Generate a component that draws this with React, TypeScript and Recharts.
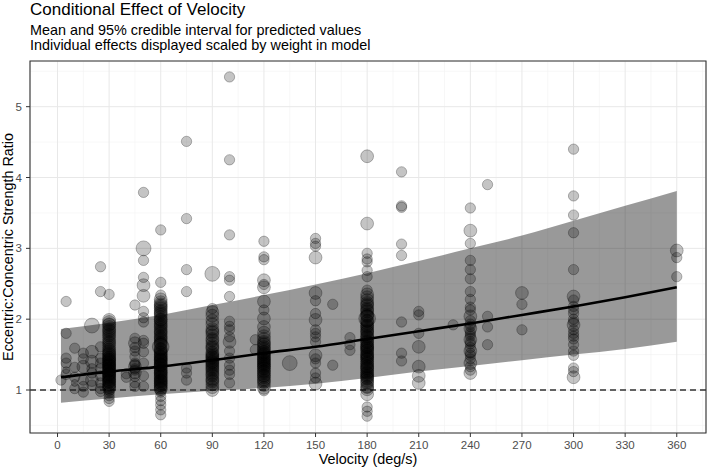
import {
  ComposedChart,
  Area,
  Line,
  Scatter,
  XAxis,
  YAxis,
  ZAxis,
  CartesianGrid,
  ReferenceLine,
  ReferenceArea,
} from "recharts";

type Pt = [number, number]; // [ratio, weight]

const FONT = "'Liberation Sans', Arial, sans-serif";

const xTicks = [0, 30, 60, 90, 120, 150, 180, 210, 240, 270, 300, 330, 360];
const xMinor = [15, 45, 75, 105, 135, 165, 195, 225, 255, 285, 315, 345, 375];
const yTicks = [1, 2, 3, 4, 5];
const yMinor = [0.5, 1.5, 2.5, 3.5, 4.5, 5.5];

// posterior mean + 95% CrI
const curveVelocity = [2, 30, 60, 90, 120, 150, 180, 210, 240, 270, 300, 330, 360];
const meanRatio = [1.18, 1.26, 1.33, 1.42, 1.52, 1.61, 1.72, 1.83, 1.94, 2.06, 2.18, 2.31, 2.45];
const upperRatio = [1.86, 1.95, 2.06, 2.2, 2.34, 2.49, 2.65, 2.82, 3.0, 3.18, 3.39, 3.6, 3.81];
const lowerRatio = [0.82, 0.88, 0.94, 0.99, 1.03, 1.09, 1.17, 1.26, 1.34, 1.42, 1.5, 1.58, 1.68];

// individual effects per velocity
const at2: Pt[] = [[1.14, 2]];
const at5: Pt[] = [[2.25, 2], [1.8, 2], [1.45, 2], [1.38, 2], [1.28, 1], [1.22, 2]];
const at10: Pt[] = [[1.59, 2], [1.32, 2], [1.18, 2], [1.1, 1], [1.02, 2]];
const at15: Pt[] = [[1.52, 2], [1.44, 2], [1.33, 3], [1.14, 2], [1.05, 2], [0.97, 2]];
const at20: Pt[] = [[1.91, 4], [1.54, 3], [1.4, 3], [1.3, 2], [1.24, 2], [1.14, 3], [1.07, 2]];
const at25: Pt[] = [
  [2.74, 2], [2.39, 2], [1.61, 2], [1.45, 2], [1.38, 2], [1.3, 2], [1.2, 2], [1.1, 2], [1.02, 2], [0.98, 2],
];
const at30: Pt[] = [
  [2.35, 2], [1.99, 3], [1.96, 3], [1.93, 3], [1.89, 3], [1.86, 3], [1.82, 3], [1.79, 3], [1.74, 3], [1.71, 3],
  [1.68, 3], [1.63, 3], [1.6, 3], [1.57, 3], [1.53, 3], [1.51, 3], [1.48, 3], [1.45, 3], [1.43, 3], [1.41, 3],
  [1.38, 3], [1.35, 3], [1.33, 3], [1.31, 3], [1.28, 3], [1.26, 3], [1.23, 3], [1.21, 3], [1.18, 3], [1.16, 3],
  [1.13, 3], [1.11, 3], [1.08, 3], [1.05, 3], [1.02, 3], [0.99, 2], [0.96, 2], [0.92, 2], [0.88, 2], [0.84, 2],
  [1.46, 3], [1.36, 3], [1.24, 3], [1.15, 3], [1.07, 3], [1.92, 3], [1.84, 3], [1.77, 3], [1.66, 3], [1.55, 3],
  [1.5, 3], [1.42, 3], [1.39, 3], [1.34, 3], [1.3, 3], [1.27, 3], [1.22, 3], [1.19, 3], [1.12, 3], [1.04, 3],
];
const at40: Pt[] = [[1.23, 2], [1.18, 2]];
const at45: Pt[] = [
  [2.2, 2], [1.73, 2], [1.66, 3], [1.6, 2], [1.55, 2], [1.47, 2], [1.38, 2], [1.33, 3], [1.3, 2], [1.25, 3],
  [1.19, 2], [1.1, 2], [1.05, 2], [1.36, 2], [1.28, 2],
];
const at50: Pt[] = [
  [3.79, 2], [3.0, 4], [2.83, 2], [2.59, 2], [2.48, 3], [2.33, 3], [2.11, 2], [2.02, 2], [1.96, 2], [1.7, 2],
  [1.66, 2], [1.54, 2], [1.38, 2], [1.2, 2], [1.05, 2],
];
const at60: Pt[] = [
  [3.26, 2], [2.52, 2], [2.34, 2], [2.28, 3], [2.24, 3], [2.21, 3], [2.17, 3], [2.15, 3], [2.12, 3], [2.08, 3],
  [2.06, 3], [2.03, 3], [1.99, 3], [1.97, 3], [1.94, 3], [1.9, 3], [1.88, 3], [1.85, 3], [1.81, 3], [1.79, 3],
  [1.76, 3], [1.72, 3], [1.7, 3], [1.67, 3], [1.64, 3], [1.61, 5], [1.58, 3], [1.55, 3], [1.52, 3], [1.48, 3],
  [1.46, 3], [1.43, 3], [1.41, 3], [1.37, 3], [1.34, 3], [1.32, 3], [1.28, 3], [1.25, 3], [1.23, 3], [1.19, 3],
  [1.16, 3], [1.14, 3], [1.1, 3], [1.07, 3], [1.04, 3], [1.01, 3], [0.97, 2], [0.91, 2], [0.85, 2], [0.79, 2],
  [0.72, 2], [0.65, 2], [1.5, 3], [1.39, 3], [1.27, 3], [1.12, 3], [2.19, 3], [2.1, 3], [2.0, 3], [1.92, 3],
  [1.83, 3], [1.74, 3], [1.66, 3], [1.57, 3], [1.47, 3], [1.42, 3], [1.36, 3], [1.3, 3], [1.24, 3], [1.18, 3],
  [1.13, 3], [1.06, 3], [1.02, 3], [1.53, 3], [1.44, 3], [1.35, 3], [1.21, 3], [1.09, 3],
];
const at75: Pt[] = [[4.51, 2], [3.42, 2], [2.7, 2], [2.39, 2], [1.31, 2], [1.24, 2], [1.14, 2]];
const at90: Pt[] = [
  [2.64, 4], [2.15, 2], [2.1, 3], [2.05, 3], [1.98, 3], [1.93, 3], [1.86, 3], [1.81, 3], [1.77, 3], [1.72, 3],
  [1.66, 3], [1.62, 3], [1.58, 3], [1.53, 3], [1.49, 3], [1.46, 3], [1.42, 3], [1.39, 3], [1.35, 3], [1.31, 3],
  [1.27, 3], [1.24, 3], [1.2, 3], [1.16, 3], [1.12, 3], [1.08, 3], [1.04, 3], [1.0, 3], [1.44, 3], [1.29, 3],
  [1.83, 3], [1.7, 3], [1.6, 3], [1.51, 3], [1.47, 3], [1.4, 3], [1.37, 3], [1.33, 3], [1.22, 3], [1.14, 3],
];
const at100: Pt[] = [
  [5.42, 2], [4.25, 2], [3.19, 2], [2.6, 2], [2.55, 2], [2.32, 2], [1.97, 2], [1.9, 2], [1.85, 2], [1.75, 2],
  [1.68, 3], [1.55, 2], [1.45, 2], [1.35, 2], [1.28, 2], [1.22, 2], [1.1, 2],
];
const at115: Pt[] = [[1.71, 2], [1.57, 2]];
const at120: Pt[] = [
  [3.1, 2], [2.88, 2], [2.84, 2], [2.55, 3], [2.49, 2], [2.45, 3], [2.25, 3], [2.13, 2], [2.01, 3], [1.89, 3],
  [1.81, 3], [1.76, 3], [1.72, 3], [1.68, 3], [1.64, 3], [1.61, 3], [1.57, 3], [1.54, 3], [1.51, 3], [1.48, 3],
  [1.45, 3], [1.42, 3], [1.39, 3], [1.36, 3], [1.33, 3], [1.3, 3], [1.27, 3], [1.24, 3], [1.21, 3], [1.18, 3],
  [1.15, 3], [1.11, 3], [1.07, 3], [1.03, 3], [0.99, 2], [1.5, 3], [1.4, 3], [1.34, 3], [1.66, 3], [1.59, 3],
  [1.53, 3], [1.46, 3], [1.43, 3], [1.37, 3], [1.31, 3], [1.26, 3], [1.2, 3], [1.13, 3],
];
const at135: Pt[] = [[1.38, 4]];
const at150: Pt[] = [
  [3.14, 2], [3.07, 2], [3.03, 2], [2.87, 3], [2.37, 3], [2.26, 2], [2.08, 2], [1.99, 3], [1.85, 2], [1.75, 2],
  [1.68, 2], [1.49, 3], [1.38, 2], [1.24, 2], [1.17, 2], [1.09, 3], [1.8, 2], [1.44, 2],
];
const at160: Pt[] = [[2.21, 2], [1.35, 2]];
const at170: Pt[] = [[1.74, 2], [1.64, 2], [1.56, 2]];
const at180: Pt[] = [
  [4.3, 3], [3.35, 3], [2.93, 2], [2.85, 2], [2.81, 2], [2.69, 2], [2.6, 2], [2.41, 2], [2.35, 3], [2.31, 3],
  [2.27, 3], [2.23, 3], [2.19, 3], [2.15, 3], [2.11, 3], [2.07, 3], [2.04, 3], [2.01, 5], [1.97, 3], [1.94, 3],
  [1.91, 3], [1.88, 3], [1.85, 3], [1.82, 3], [1.79, 3], [1.76, 3], [1.73, 3], [1.7, 3], [1.67, 3], [1.64, 3],
  [1.61, 3], [1.58, 3], [1.55, 3], [1.52, 3], [1.49, 3], [1.46, 3], [1.43, 3], [1.4, 3], [1.37, 3], [1.34, 3],
  [1.31, 3], [1.28, 3], [1.25, 3], [1.22, 3], [1.19, 3], [1.16, 3], [1.13, 3], [1.09, 3], [1.05, 3], [1.01, 3],
  [0.94, 3], [0.76, 2], [0.7, 2], [0.63, 2], [1.6, 3], [1.47, 3], [1.33, 3], [1.2, 3], [2.21, 3], [2.13, 3],
  [2.05, 3], [1.98, 3], [1.9, 3], [1.83, 3], [1.75, 3], [1.68, 3], [1.62, 3], [1.56, 3], [1.5, 3], [1.44, 3],
  [1.38, 3], [1.3, 3], [1.24, 3], [1.17, 3], [1.11, 3], [1.04, 3],
];
const at200: Pt[] = [[4.08, 2], [3.6, 2], [3.58, 2], [3.06, 2], [2.9, 2], [1.96, 2], [1.52, 2], [1.41, 2]];
const at210: Pt[] = [[2.11, 2], [2.06, 2], [1.8, 2], [1.61, 3], [1.33, 3], [1.2, 3], [1.1, 3]];
const at230: Pt[] = [[1.92, 2]];
const at240: Pt[] = [
  [3.57, 2], [3.25, 3], [3.07, 2], [2.83, 2], [2.7, 2], [2.57, 2], [2.39, 2], [2.28, 2], [2.17, 2], [2.13, 2],
  [2.04, 3], [1.98, 2], [1.93, 2], [1.87, 3], [1.82, 2], [1.76, 2], [1.71, 3], [1.65, 2], [1.6, 2], [1.55, 3],
  [1.49, 2], [1.44, 2], [1.38, 3], [1.33, 2], [1.28, 2], [1.24, 3], [1.9, 2], [1.79, 2], [1.68, 2], [1.52, 2],
];
const at250: Pt[] = [[3.9, 2], [2.04, 2], [1.89, 2], [1.64, 2]];
const at270: Pt[] = [[2.37, 3], [2.21, 2], [1.85, 2]];
const at300: Pt[] = [
  [4.4, 2], [3.74, 2], [3.47, 2], [3.22, 2], [2.7, 2], [2.32, 3], [2.27, 2], [2.18, 2], [2.08, 2], [2.0, 2],
  [1.92, 3], [1.85, 2], [1.8, 2], [1.72, 2], [1.64, 2], [1.55, 2], [1.49, 2], [1.31, 2], [1.26, 2], [1.18, 3],
  [2.13, 2], [1.96, 2], [1.76, 2],
];
const at360: Pt[] = [[2.97, 3], [2.87, 2], [2.6, 2]];

const columns: [number, Pt[]][] = [
  [2, at2], [5, at5], [10, at10], [15, at15], [20, at20], [25, at25], [30, at30], [40, at40], [45, at45],
  [50, at50], [60, at60], [75, at75], [90, at90], [100, at100], [115, at115], [120, at120], [135, at135],
  [150, at150], [160, at160], [170, at170], [180, at180], [200, at200], [210, at210], [230, at230],
  [240, at240], [250, at250], [270, at270], [300, at300], [360, at360],
];

const pointData = columns.flatMap(([velocity, pts]) =>
  pts.map(([ratio, weight]) => ({ velocity, ratio, weight }))
);

const curveData = curveVelocity.map((velocity, i) => ({
  velocity,
  mean: meanRatio[i],
  band: [lowerRatio[i], upperRatio[i]],
}));

const X_DOMAIN: [number, number] = [-16, 377];
const Y_DOMAIN: [number, number] = [0.393, 5.645];

const tickStyle = { fontSize: 11.5, fill: "#4d4d4d", fontFamily: FONT };

export default function App() {
  return (
    <div style={{ position: "absolute", left: 0, top: 0, width: 708, height: 468, background: "#fff" }}>
      <ComposedChart
        width={708}
        height={468}
        margin={{ top: 61, right: 2, bottom: 0, left: 0 }}
      >
        <CartesianGrid
          stroke="#f2f2f2"
          strokeWidth={0.6}
          verticalValues={xMinor}
          horizontalValues={yMinor}
        />
        <CartesianGrid stroke="#e8e8e8" strokeWidth={1} />
        <XAxis
          dataKey="velocity"
          type="number"
          domain={X_DOMAIN}
          allowDataOverflow
          ticks={xTicks}
          interval={0}
          height={35}
          tickSize={4}
          tickMargin={4}
          axisLine={false}
          tickLine={{ stroke: "#333" }}
          tick={tickStyle}
        />
        <YAxis
          type="number"
          domain={Y_DOMAIN}
          allowDataOverflow
          ticks={yTicks}
          interval={0}
          width={30}
          tickSize={4}
          tickMargin={4}
          axisLine={false}
          tickLine={{ stroke: "#333" }}
          tick={tickStyle}
        />
        <ZAxis dataKey="weight" type="number" domain={[1, 5]} range={[38, 220]} />
        <Area
          data={curveData}
          dataKey="band"
          type="monotone"
          stroke="none"
          fill="#000"
          fillOpacity={0.4}
          isAnimationActive={false}
        />
        <Scatter
          data={pointData}
          dataKey="ratio"
          fill="#000"
          fillOpacity={0.23}
          stroke="#000"
          strokeOpacity={0.3}
          strokeWidth={0.9}
          isAnimationActive={false}
        />
        <Line
          data={curveData}
          dataKey="mean"
          type="monotone"
          stroke="#000"
          strokeWidth={2.6}
          dot={false}
          isAnimationActive={false}
        />
        <ReferenceLine y={1} stroke="#333" strokeWidth={1.4} strokeDasharray="6 4" />
        <ReferenceArea
          x1={X_DOMAIN[0]}
          x2={X_DOMAIN[1]}
          y1={Y_DOMAIN[0]}
          y2={Y_DOMAIN[1]}
          fill="none"
          stroke="#333"
          strokeWidth={1.1}
          ifOverflow="visible"
        />
      </ComposedChart>
      <svg
        width={708}
        height={468}
        style={{ position: "absolute", left: 0, top: 0, pointerEvents: "none" }}
        fontFamily={FONT}
      >
        <text x={30} y={15} fontSize={17} fill="#000">
          Conditional Effect of Velocity
        </text>
        <text x={30} y={34.5} fontSize={14.4} fill="#000">
          Mean and 95% credible interval for predicted values
        </text>
        <text x={30} y={49.8} fontSize={14.4} fill="#000">
          Individual effects displayed scaled by weight in model
        </text>
        <text x={368} y={463.5} fontSize={14.4} textAnchor="middle" fill="#000">
          Velocity (deg/s)
        </text>
        <text
          x={0}
          y={0}
          fontSize={14.4}
          textAnchor="middle"
          fill="#000"
          transform="translate(12.5 247) rotate(-90)"
        >
          Eccentric:Concentric Strength Ratio
        </text>
      </svg>
    </div>
  );
}
